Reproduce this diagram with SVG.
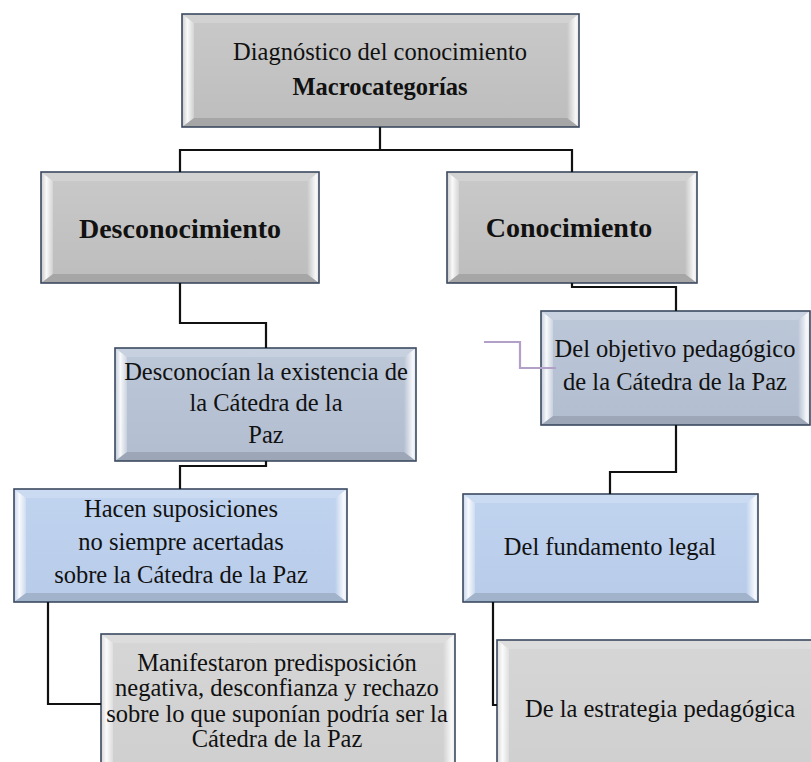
<svg xmlns="http://www.w3.org/2000/svg" width="811" height="762" viewBox="0 0 811 762">
<defs>
<linearGradient id="bevL" x1="0" y1="0" x2="1" y2="0">
<stop offset="0" stop-color="#ffffff" stop-opacity="0.1"/>
<stop offset="0.45" stop-color="#ffffff" stop-opacity="0.9"/>
<stop offset="1" stop-color="#ffffff" stop-opacity="0.25"/>
</linearGradient>
<linearGradient id="bevR" x1="0" y1="0" x2="1" y2="0">
<stop offset="0" stop-color="#ffffff" stop-opacity="0"/>
<stop offset="0.75" stop-color="#ffffff" stop-opacity="0.9"/>
<stop offset="1" stop-color="#ffffff" stop-opacity="0.5"/>
</linearGradient>
<linearGradient id="faceG" x1="0" y1="0" x2="0" y2="1">
<stop offset="0" stop-color="#c9c9c9"/>
<stop offset="1" stop-color="#bdbdbd"/>
</linearGradient>
<linearGradient id="faceS" x1="0" y1="0" x2="0" y2="1">
<stop offset="0" stop-color="#bcc7d8"/>
<stop offset="1" stop-color="#b2bed0"/>
</linearGradient>
<linearGradient id="faceB" x1="0" y1="0" x2="0" y2="1">
<stop offset="0" stop-color="#c0d3ef"/>
<stop offset="1" stop-color="#b8cbe8"/>
</linearGradient>
<linearGradient id="faceL" x1="0" y1="0" x2="0" y2="1">
<stop offset="0" stop-color="#d6d6d6"/>
<stop offset="1" stop-color="#cfcfcf"/>
</linearGradient>
</defs>
<style>
.t{font-family:"Liberation Serif","Times New Roman",serif;font-size:24.5px;fill:#111;text-anchor:middle}
.b{font-weight:bold}
.h{font-size:28px}
.edge{fill:none;stroke:#3b4a60;stroke-width:1.6}
.bt{fill:#ffffff;fill-opacity:0.18}
.bl{fill:url(#bevL)}
.br{fill:url(#bevR)}
.bb{fill:#000000;fill-opacity:0.12}
.g{fill:url(#faceG)}
.s{fill:url(#faceS)}
.bl2{fill:url(#faceB)}
.l{fill:url(#faceL)}
.c{fill:none;stroke:#111;stroke-width:2.2}
.p{fill:none;stroke:#b3a0c9;stroke-width:2.2}
</style>

<g id="n-top">
<rect class="g" x="182" y="14" width="397" height="113"/>
<polygon class="bt" points="182,14 579,14 567,23 194,23"/>
<polygon class="bl" points="182,14 194,23 194,118 182,127"/>
<polygon class="br" points="567,23 579,14 579,127 567,118"/>
<polygon class="bb" points="182,127 194,118 567,118 579,127"/>
<rect class="edge" x="182" y="14" width="397" height="113"/>
<text class="t" x="380" y="60">Diagnóstico del conocimiento</text>
<text class="t b" x="380" y="95">Macrocategorías</text>
</g>

<g id="n-desconocimiento">
<rect class="g" x="41" y="172" width="278" height="111"/>
<polygon class="bt" points="41,172 319,172 307,181 53,181"/>
<polygon class="bl" points="41,172 53,181 53,274 41,283"/>
<polygon class="br" points="307,181 319,172 319,283 307,274"/>
<polygon class="bb" points="41,283 53,274 307,274 319,283"/>
<rect class="edge" x="41" y="172" width="278" height="111"/>
<text class="t b h" x="180" y="238">Desconocimiento</text>
</g>

<g id="n-conocimiento">
<rect class="g" x="447" y="172" width="250" height="111"/>
<polygon class="bt" points="447,172 697,172 685,181 459,181"/>
<polygon class="bl" points="447,172 459,181 459,274 447,283"/>
<polygon class="br" points="685,181 697,172 697,283 685,274"/>
<polygon class="bb" points="447,283 459,274 685,274 697,283"/>
<rect class="edge" x="447" y="172" width="250" height="111"/>
<text class="t b h" x="569" y="237">Conocimiento</text>
</g>

<g id="n-desconocian">
<rect class="s" x="115" y="348" width="301" height="113"/>
<polygon class="bt" points="115,348 416,348 404,357 127,357"/>
<polygon class="bl" points="115,348 127,357 127,452 115,461"/>
<polygon class="br" points="404,357 416,348 416,461 404,452"/>
<polygon class="bb" points="115,461 127,452 404,452 416,461"/>
<rect class="edge" x="115" y="348" width="301" height="113"/>
<text class="t" x="266" y="380">Desconocían la existencia de</text>
<text class="t" x="266" y="411">la Cátedra de la</text>
<text class="t" x="266" y="443">Paz</text>
</g>

<g id="n-objetivo">
<rect class="s" x="541" y="311" width="269" height="114"/>
<polygon class="bt" points="541,311 810,311 798,320 553,320"/>
<polygon class="bl" points="541,311 553,320 553,416 541,425"/>
<polygon class="br" points="798,320 810,311 810,425 798,416"/>
<polygon class="bb" points="541,425 553,416 798,416 810,425"/>
<rect class="edge" x="541" y="311" width="269" height="114"/>
<text class="t" x="675" y="357">Del objetivo pedagógico</text>
<text class="t" x="675" y="390">de la Cátedra de la Paz</text>
</g>

<g id="n-hacen">
<rect class="bl2" x="14" y="489" width="333" height="113"/>
<polygon class="bt" points="14,489 347,489 335,498 26,498"/>
<polygon class="bl" points="14,489 26,498 26,593 14,602"/>
<polygon class="br" points="335,498 347,489 347,602 335,593"/>
<polygon class="bb" points="14,602 26,593 335,593 347,602"/>
<rect class="edge" x="14" y="489" width="333" height="113"/>
<text class="t" x="181" y="517">Hacen suposiciones</text>
<text class="t" x="181" y="550">no siempre acertadas</text>
<text class="t" x="181" y="583">sobre la Cátedra de la Paz</text>
</g>

<g id="n-fundamento">
<rect class="bl2" x="463" y="494" width="295" height="108"/>
<polygon class="bt" points="463,494 758,494 746,503 475,503"/>
<polygon class="bl" points="463,494 475,503 475,593 463,602"/>
<polygon class="br" points="746,503 758,494 758,602 746,593"/>
<polygon class="bb" points="463,602 475,593 746,593 758,602"/>
<rect class="edge" x="463" y="494" width="295" height="108"/>
<text class="t" x="610" y="555">Del fundamento legal</text>
</g>

<g id="n-manifestaron">
<rect class="l" x="101" y="634" width="354" height="140"/>
<polygon class="bt" points="101,634 455,634 443,643 113,643"/>
<polygon class="bl" points="101,634 113,643 113,765 101,774"/>
<polygon class="br" points="443,643 455,634 455,774 443,765"/>
<rect class="edge" x="101" y="634" width="354" height="140"/>
<text class="t" x="277" y="671">Manifestaron predisposición</text>
<text class="t" x="277" y="696">negativa, desconfianza y rechazo</text>
<text class="t" x="277" y="722">sobre lo que suponían podría ser la</text>
<text class="t" x="277" y="747">Cátedra de la Paz</text>
</g>

<g id="n-estrategia">
<rect class="l" x="497" y="640" width="326" height="135"/>
<polygon class="bt" points="497,640 823,640 811,649 509,649"/>
<polygon class="bl" points="497,640 509,649 509,766 497,775"/>
<rect class="edge" x="497" y="640" width="326" height="135"/>
<text class="t" x="660" y="717">De la estrategia pedagógica</text>
</g>

<g id="connectors">
<path class="c" d="M380,127 V150 M180,172 V150 H572 V172"/>
<path class="c" d="M180,283 V323 H266 V348"/>
<path class="c" d="M266,461 V466 H180 V489"/>
<path class="c" d="M48,602 V704 H101"/>
<path class="c" d="M572,283 V287 H676 V311"/>
<path class="c" d="M676,425 V472 H610 V494"/>
<path class="c" d="M493,602 V705 H497"/>
<path class="p" d="M484,342 H520 V368 H556"/>
</g>
</svg>
